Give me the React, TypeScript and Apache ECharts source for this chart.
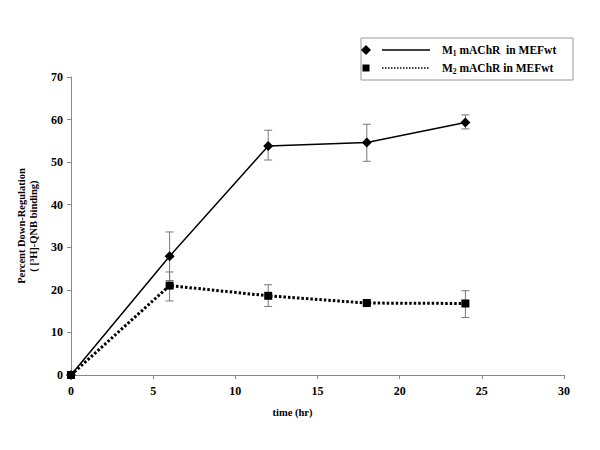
import React, { useEffect, useRef } from "react";
import * as echarts from "echarts";

const times = [0, 6, 12, 18, 24];
const m1Values = [0, 27.9, 53.8, 54.6, 59.3];
const m1High = [0, 33.6, 57.5, 58.9, 61.1];
const m1Low = [0, 22.2, 50.5, 50.2, 57.8];
const m2Values = [0, 21.0, 18.6, 16.9, 16.8];
const m2High = [0, 24.2, 21.2, 17.4, 19.8];
const m2Low = [0, 17.4, 16.1, 16.4, 13.5];
const m1Name = "M1 mAChR  in MEFwt";
const m2Name = "M2 mAChR in MEFwt";

const FONT = "'Liberation Serif', 'Times New Roman', serif";

function errData(hi: number[], lo: number[]) {
  const out: number[][] = [];
  times.forEach((t, i) => {
    if (hi[i] !== lo[i]) out.push([t, lo[i], hi[i]]);
  });
  return out;
}

function errRender(params: any, api: any) {
  const x = api.value(0);
  const lo = api.value(1);
  const hi = api.value(2);
  const pHi = api.coord([x, hi]);
  const pLo = api.coord([x, lo]);
  const w = 4;
  const style = { stroke: "#777", lineWidth: 1 };
  return {
    type: "group",
    children: [
      { type: "line", shape: { x1: pHi[0], y1: pHi[1], x2: pLo[0], y2: pLo[1] }, style },
      { type: "line", shape: { x1: pHi[0] - w, y1: pHi[1], x2: pHi[0] + w, y2: pHi[1] }, style },
      { type: "line", shape: { x1: pLo[0] - w, y1: pLo[1], x2: pLo[0] + w, y2: pLo[1] }, style },
    ],
  };
}

export default function App() {
  const ref = useRef<HTMLDivElement>(null);
  useEffect(() => {
    if (!ref.current) return;
    const chart = echarts.init(ref.current, null, { renderer: "svg" });
    const richText = {
      b: { fontFamily: FONT, fontWeight: "bold", fontSize: 11.5, fill: "#000" },
      s: { fontFamily: FONT, fontWeight: "bold", fontSize: 7.5, fill: "#000", padding: [6, 0, 0, 0] },
    };
    chart.setOption({
      animation: false,
      backgroundColor: "#fff",
      textStyle: { fontFamily: FONT },
      grid: { left: 71, right: 36, top: 77, bottom: 75, containLabel: false },
      xAxis: {
        type: "value",
        min: 0,
        max: 30,
        interval: 5,
        name: "time (hr)",
        nameLocation: "middle",
        nameGap: 32,
        nameTextStyle: {
          fontFamily: FONT,
          fontWeight: "bold",
          fontSize: 10.5,
          color: "#000",
          padding: [0, 50, 0, 0],
        },
        axisLine: { lineStyle: { color: "#888", width: 1 } },
        axisTick: { show: true, length: 4, lineStyle: { color: "#888" } },
        axisLabel: { fontFamily: FONT, fontWeight: "bold", fontSize: 12, color: "#000", margin: 10 },
        splitLine: { show: false },
      },
      yAxis: {
        type: "value",
        min: 0,
        max: 70,
        interval: 10,
        name: "Percent Down-Regulation\n( [³H]-QNB binding)",
        nameLocation: "middle",
        nameGap: 32,
        nameRotate: 90,
        nameTextStyle: { fontFamily: FONT, fontWeight: "bold", fontSize: 10.5, color: "#000", lineHeight: 12 },
        axisLine: { show: true, lineStyle: { color: "#888", width: 1 } },
        axisTick: { show: true, length: 4, lineStyle: { color: "#888" } },
        axisLabel: { fontFamily: FONT, fontWeight: "bold", fontSize: 12, color: "#000", margin: 8 },
        splitLine: { show: false },
      },
      series: [
        {
          type: "custom",
          name: "m1err",
          renderItem: errRender,
          data: errData(m1High, m1Low),
          z: 1,
          silent: true,
        },
        {
          type: "custom",
          name: "m2err",
          renderItem: errRender,
          data: errData(m2High, m2Low),
          z: 1,
          silent: true,
        },
        {
          type: "line",
          name: m1Name,
          data: times.map((t, i) => [t, m1Values[i]]),
          symbol: "diamond",
          symbolSize: 10,
          itemStyle: { color: "#000" },
          lineStyle: { color: "#000", width: 1.5 },
          z: 3,
        },
        {
          type: "line",
          name: m2Name,
          data: times.map((t, i) => [t, m2Values[i]]),
          symbol: "rect",
          symbolSize: 8,
          itemStyle: { color: "#000" },
          lineStyle: { color: "#000", width: 3, type: [2.5, 2] },
          z: 3,
        },
      ],
      graphic: [
        {
          type: "rect",
          shape: { x: 361, y: 38, width: 212, height: 42 },
          style: { fill: "#fff", stroke: "#999", lineWidth: 1 },
        },
        {
          type: "polygon",
          shape: { points: [[366, 45], [371, 50], [366, 55], [361, 50]] },
          style: { fill: "#000" },
        },
        {
          type: "line",
          shape: { x1: 382, y1: 50, x2: 430, y2: 50 },
          style: { stroke: "#000", lineWidth: 1.5 },
        },
        {
          type: "rect",
          shape: { x: 362.5, y: 64.5, width: 7, height: 7 },
          style: { fill: "#000" },
        },
        {
          type: "line",
          shape: { x1: 382, y1: 68, x2: 430, y2: 68 },
          style: { stroke: "#000", lineWidth: 1.5, lineDash: [1.5, 1.5] },
        },
        {
          type: "text",
          x: 442,
          y: 50,
          style: {
            text: "{b|M}{s|1}{b| mAChR  in MEFwt}",
            rich: richText,
            verticalAlign: "middle",
          },
        },
        {
          type: "text",
          x: 442,
          y: 68,
          style: {
            text: "{b|M}{s|2}{b| mAChR in MEFwt}",
            rich: richText,
            verticalAlign: "middle",
          },
        },
      ],
    });
    return () => chart.dispose();
  }, []);
  return (
    <div
      ref={ref}
      style={{ position: "fixed", left: 0, top: 0, width: 600, height: 450, background: "#fff" }}
    />
  );
}
